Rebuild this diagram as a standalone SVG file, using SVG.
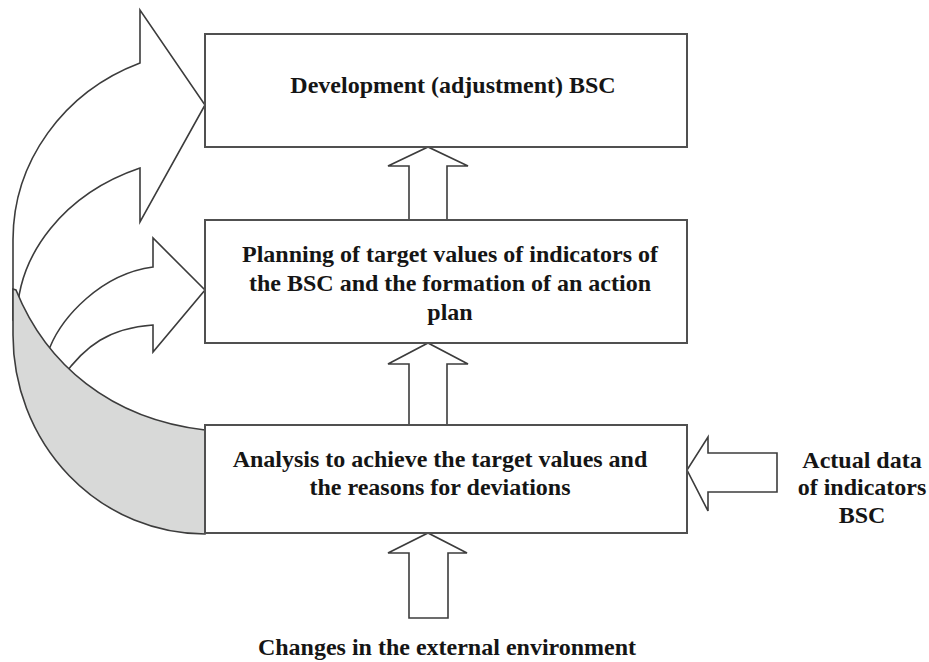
<svg xmlns="http://www.w3.org/2000/svg" width="929" height="662" viewBox="0 0 929 662">
  <style>
    .box { fill: #ffffff; stroke: #505050; stroke-width: 2; }
    .arrow { fill: #ffffff; stroke: #3c3c3c; stroke-width: 1.6; stroke-linejoin: miter; }
    .shade { fill: #d8d9d8; stroke: #3c3c3c; stroke-width: 1.6; }
    text { font-family: "Liberation Serif", "Times New Roman", serif; font-weight: bold; font-size: 24px; fill: #151515; text-anchor: middle; }
  </style>
  <rect width="929" height="662" fill="#ffffff"/>

  <g id="connectors">
    <!-- large curved feedback arrow into the top box -->
    <path class="arrow" d="M140,63 L140,10 L205,105 L140,222 L140,168 A198,164 0 0 0 17,320 L13,320 L13,240 A202,190.5 0 0 1 140,63 Z"/>
    <!-- smaller curved feedback arrow into the middle box -->
    <path class="arrow" d="M45,356 L50,347 C62,318 100,274 153,267 L153,238 L205,290 L153,352 L153,325 C110,328 85,345 62,378 Z"/>
    <!-- shaded back part of the curved arrows, leaving the bottom box -->
    <path class="shade" d="M205,534 A192,199 0 0 1 13,335 L13,289 L16,290 C46,364 110,419 205,430 Z"/>

    <!-- vertical block arrows -->
    <polygon class="arrow" points="409,220 409,166 388,166 428,147 468,166 447,166 447,220"/>
    <polygon class="arrow" points="409,425 409,364 388,364 428,343 468,364 447,364 447,425"/>
    <polygon class="arrow" points="409,618 409,553 388,553 428,533 467,553 448,553 448,618"/>
    <!-- input arrow from the right -->
    <polygon class="arrow" points="777,453 708,453 708,437 687,470 708,511 708,492 777,492"/>
  </g>

  <g id="node-development">
    <rect class="box" x="205" y="34" width="482" height="113"/>
    <text x="453" y="93">Development (adjustment) BSC</text>
  </g>

  <g id="node-planning">
    <rect class="box" x="205" y="220" width="482" height="123"/>
    <text x="450" y="262">Planning of target values of indicators of</text>
    <text x="450" y="291">the BSC and the formation of an action</text>
    <text x="450" y="320">plan</text>
  </g>

  <g id="node-analysis">
    <rect class="box" x="205" y="425" width="482" height="108"/>
    <text x="440" y="467">Analysis to achieve the target values and</text>
    <text x="440" y="495">the reasons for deviations</text>
  </g>

  <g id="node-actual-data">
    <text x="862" y="468">Actual data</text>
    <text x="862" y="495">of indicators</text>
    <text x="862" y="523">BSC</text>
  </g>

  <g id="node-external">
    <text x="447" y="655">Changes in the external environment</text>
  </g>
</svg>
